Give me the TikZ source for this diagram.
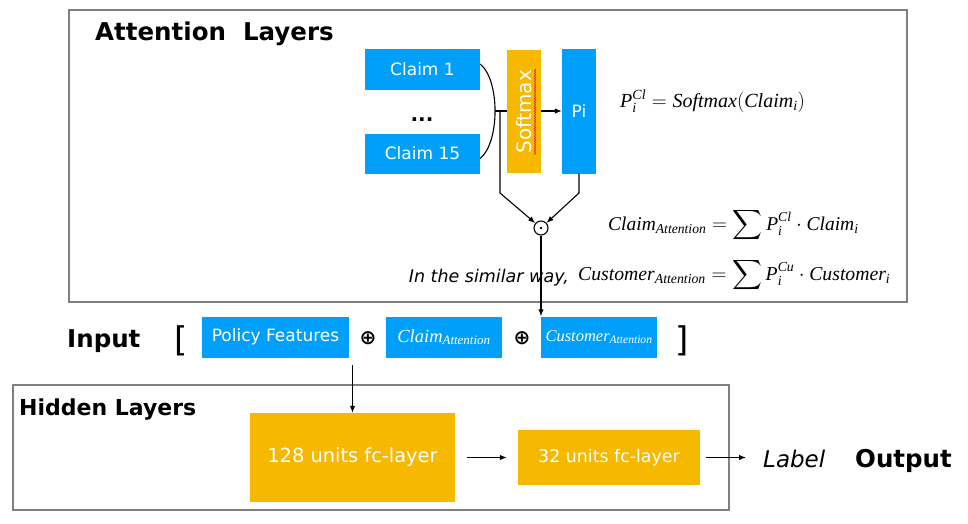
\documentclass[tikz,border=0pt]{standalone}
\usepackage{amsmath}
\usepackage{fontspec}
\setmainfont{DejaVu Sans}
\newfontfamily\eqfont{Liberation Serif}
\usepackage{tikz}
\usetikzlibrary{arrows.meta}
\usetikzlibrary{calc}
\usetikzlibrary{decorations.pathmorphing}

\definecolor{boxblue}{RGB}{0,160,250}
\definecolor{boxorange}{RGB}{247,184,0}
\definecolor{framegray}{RGB}{128,128,128}

\newcommand{\fs}[1]{\fontsize{#1}{#1}\selectfont}
\newcommand{\ev}[1]{\text{\eqfont\itshape #1}}

\begin{document}
\begin{tikzpicture}[x=1pt,y=-1pt,
  blueblock/.style={fill=boxblue, text=white, inner sep=0pt, font=\fs{17}},
  orangeblock/.style={fill=boxorange, text=white, inner sep=0pt, font=\fs{18}},
  layerframe/.style={draw=framegray, line width=1.4pt},
  heading/.style={font=\bfseries\fs{24.5}, inner sep=0pt, anchor=base west},
  eqtext/.style={font=\fs{20}, inner sep=0pt, anchor=base west},
  conn/.style={line width=1.1pt},
  arr/.style={-{Latex[length=7pt,width=5.5pt]}, line width=1.1pt}]
\useasboundingbox (0,0) rectangle (968,523);

\draw[layerframe] (69,10) rectangle (907,302);
\draw[layerframe] (13,385) rectangle (729,510);

\node[heading] (attnhead) at (95,40) {Attention\ \ Layers};
\node[heading] (inputhead) at (67,347) {Input};
\node[heading, font=\bfseries\fs{22}] (hiddenhead) at (19,415) {Hidden Layers};
\node[heading] (outputhead) at (855,467) {Output};
\node[heading, font=\itshape\fs{23}] (label) at (763,467) {Label};

% attention part
\node[blueblock, minimum width=115, minimum height=41] (claim1) at (422.5,69) {Claim 1};
\node[blueblock, minimum width=115, minimum height=40] (claim15) at (422.5,153.5) {Claim 15};
\node[font=\bfseries\fs{20}, inner sep=0pt, anchor=base] (dots) at (422,121) {...};
\node[orangeblock, font=\fs{20}, rotate=90, minimum width=123, minimum height=34] (softmax) at (524,111.5) {Softmax};
\draw[red, line width=0.5pt, decorate, decoration={snake, amplitude=0.7pt, segment length=2.5pt}] (535,69) -- (535,155);
\node[blueblock, minimum width=34, minimum height=125] (pi) at (579,111) {Pi};
\node[circle, draw, line width=1.1pt, minimum size=14, inner sep=0pt] (prod) at (541,228) {};
\fill (prod.center) circle (1.4);

\coordinate (merge) at (495,111);
\coordinate (lsplit) at (500,111);
\coordinate (lbend) at (500,193);
\coordinate (rbend) at (pi.south |- lbend);
\draw[conn] ([yshift=5pt]claim1.east) .. controls (500,80) and (500,142) .. ([yshift=-5pt]claim15.east);
\draw[conn] (merge) -- (merge -| softmax.north);
\draw[arr] (softmax.south |- merge) -- (merge -| pi.west);
\draw[arr] (lsplit) -- (lbend) -- (prod);
\draw[arr] (pi.south) -- (rbend) -- (prod);

\node[eqtext] (eqsoft) at (620,107) {$\ev{P}_{\ev{i}}^{\ev{Cl}} = \ev{Softmax}(\ev{Claim}_{\ev{i}})$};
\node[eqtext, font=\fs{19.5}] (eqclaim) at (608,230) {$\ev{Claim}_{\ev{Attention}} = \displaystyle\sum \ev{P}_{\ev{i}}^{\ev{Cl}}\cdot \ev{Claim}_{\ev{i}}$};
\node[eqtext, font=\fs{19.7}] (eqcust) at (578,280) {$\ev{Customer}_{\ev{Attention}} = \displaystyle\sum \ev{P}_{\ev{i}}^{\ev{Cu}}\cdot \ev{Customer}_{\ev{i}}$};
\node[font=\itshape\fs{17.5}, inner sep=0pt, anchor=base east] (similar) at (569,282) {In the similar way,};

% input row
\node[font=\fs{34}, inner sep=0pt] (lbrack) at (181,341) {[};
\node[font=\fs{34}, inner sep=0pt] (rbrack) at (682,341) {]};
\node[blueblock, minimum width=147, minimum height=41] (policy) at (275.5,337) {Policy Features};
\node[font=\bfseries\fs{20}, inner sep=0pt] (plus1) at (368,338) {⊕};
\node[blueblock, font=\fs{18.5}, minimum width=116, minimum height=41] (claimatt) at (444,337) {$\ev{Claim}_{\ev{Attention}}$};
\node[font=\bfseries\fs{20}, inner sep=0pt] (plus2) at (522,338) {⊕};
\node[blueblock, font=\fs{16.5}, minimum width=116, minimum height=41] (custatt) at (599,337) {$\ev{Customer}_{\ev{Attention}}$};
\draw[arr] (prod) -- (prod |- custatt.north);

% hidden layers
\node[orangeblock, font=\fs{19.4}, minimum width=205, minimum height=89] (fc128) at (352.5,457.5) {128 units fc-layer};
\node[orangeblock, font=\fs{17.4}, minimum width=182, minimum height=55] (fc32) at (609,457.5) {32 units fc-layer};
\coordinate (hidin) at (352.5,365);
\draw[arr] (hidin) -- (fc128.north);
\draw[arr, shorten <=12pt, shorten >=11pt] (fc128) -- (fc32);
\draw[arr, shorten <=6pt, shorten >=17pt] (fc32.east) -- (fc32.east -| label.west);

\end{tikzpicture}
\end{document}
